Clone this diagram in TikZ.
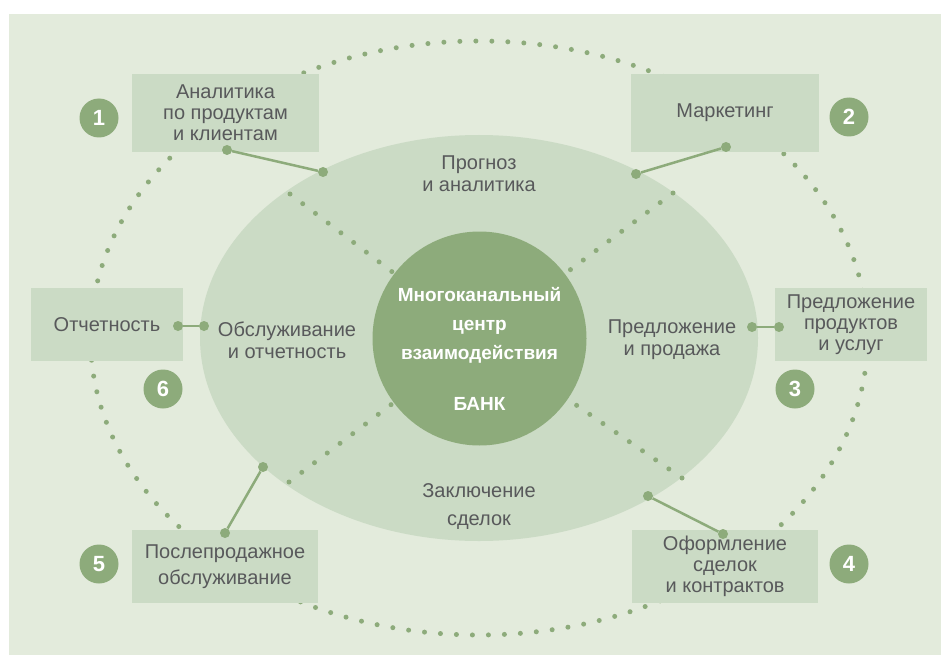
\documentclass[tikz,border=0pt]{standalone}
\usepackage{fontspec}
\setmainfont{Liberation Sans}
\usetikzlibrary{shapes.geometric,positioning}
\definecolor{panelbg}{HTML}{E3EBDC}
\definecolor{ringbg}{HTML}{CBDBC5}
\definecolor{leaf}{HTML}{8DAB7B}
\definecolor{inkgrey}{HTML}{58595B}
\tikzset{
  stagebox/.style={rectangle,fill=ringbg,text=inkgrey,align=center,
    font=\fontsize{20}{21}\selectfont,inner sep=0pt},
  numdisc/.style={circle,fill=leaf,text=white,minimum size=39pt,inner sep=0pt,
    font=\fontsize{22}{22}\selectfont\bfseries},
  ringlabel/.style={text=inkgrey,align=center,font=\fontsize{20}{22}\selectfont},
  hubtext/.style={text=white,align=center,font=\fontsize{19}{29}\selectfont\bfseries},
  ringnode/.style={ellipse,fill=ringbg,minimum width=558pt,minimum height=406pt,inner sep=0pt},
  hubnode/.style={circle,fill=leaf,minimum size=214pt,inner sep=0pt},
  dotline/.style={leaf,line width=5pt,line cap=round,dash pattern=on 0pt off 16pt},
  joint/.style={circle,fill=leaf,minimum size=10pt,inner sep=0pt},
  link/.style={leaf,line width=2.5pt},
}

\begin{document}
\begin{tikzpicture}[x=1pt,y=-1pt]
  \useasboundingbox (0,0) rectangle (941,655);
  \fill[panelbg] (9,14) rectangle (941,655);

  %% ── Outer dotted orbit and inner ring ────────────────────────────────────
  \node[ringnode] (ring) at (479,338) {};
  \draw[dotline] (ring.center) ellipse [x radius=388.5pt, y radius=297pt];

  %% ── Dotted spokes between the sectors ────────────────────────────────────
  \coordinate (spokenw) at (290,194);
  \coordinate (spokene) at (673,193);
  \coordinate (spokese) at (682,478);
  \coordinate (spokesw) at (289,482);
  \foreach \s in {nw,ne,se,sw}
    \draw[dotline] (spoke\s) -- (ring.center);

  %% ── Hub ──────────────────────────────────────────────────────────────────
  \node[hubnode] (hub) at (479.5,338.5) {};
  \node[hubtext] (hubtitle) at (479.5,325) {Многоканальный\\центр\\взаимодействия};
  \node[hubtext] (bank) at (479.5,404) {БАНК};

  %% ── Sector labels ────────────────────────────────────────────────────────
  \node[ringlabel] (forecast) at (479,174) {Прогноз\\и аналитика};
  \node[ringlabel] (sales)    at (672,340) {Предложение\\и продажа};
  \node[ringlabel,font=\fontsize{20}{28}\selectfont] (closing) at (479,507) {Заключение\\сделок};
  \node[ringlabel] (service)  at (287,340) {Обслуживание\\и отчетность};

  %% ── Stage boxes ──────────────────────────────────────────────────────────
  \node[stagebox,minimum width=187pt,minimum height=78pt] (analytbox) at (225.5,113) {Аналитика\\по продуктам\\и клиентам};
  \node[stagebox,minimum width=188pt,minimum height=78pt] (mktbox)    at (725,113)   {Маркетинг};
  \node[stagebox,minimum width=152pt,minimum height=73pt] (offerbox)  at (851,324.5) {Предложение\\продуктов\\и услуг};
  \node[stagebox,minimum width=186pt,minimum height=73pt] (dealbox)   at (725,566.5) {Оформление\\сделок\\и контрактов};
  \node[stagebox,minimum width=186pt,minimum height=73pt,
    font=\fontsize{20}{26}\selectfont] (afterbox) at (225,566.5) {Послепродажное\\обслуживание};
  \node[stagebox,minimum width=152pt,minimum height=73pt] (reportbox) at (107,324.5) {Отчетность};

  %% ── Step numbers ─────────────────────────────────────────────────────────
  \node[numdisc] (num1) at (99,118)  {1};
  \node[numdisc] (num2) at (849,117) {2};
  \node[numdisc] (num3) at (795,389) {3};
  \node[numdisc] (num4) at (849,564) {4};
  \node[numdisc] (num5) at (99,564)  {5};
  \node[numdisc] (num6) at (163,389) {6};

  %% ── Links from boxes to the ring ─────────────────────────────────────────
  \node[joint] (analytpin)   at (227,150) {};
  \node[joint] (forecastpin) at (323,172) {};
  \node[joint] (mktpin)      at (726,147) {};
  \node[joint] (mktringpin)  at (636,174) {};
  \node[joint] (offerpin)    at (779,327) {};
  \node[joint] (salespin)    at (752,327) {};
  \node[joint] (dealpin)     at (723,534) {};
  \node[joint] (closingpin)  at (648,496) {};
  \node[joint] (afterpin)    at (225,533) {};
  \node[joint] (aftringpin)  at (263,467) {};
  \node[joint] (reportpin)   at (178,326) {};
  \node[joint] (servicepin)  at (204,326) {};

  \draw[link] (analytpin) -- (forecastpin);
  \draw[link] (mktpin)    -- (mktringpin);
  \draw[link] (offerpin)  -- (salespin);
  \draw[link] (dealpin)   -- (closingpin);
  \draw[link] (afterpin)  -- (aftringpin);
  \draw[link] (reportpin) -- (servicepin);

\end{tikzpicture}
\end{document}
